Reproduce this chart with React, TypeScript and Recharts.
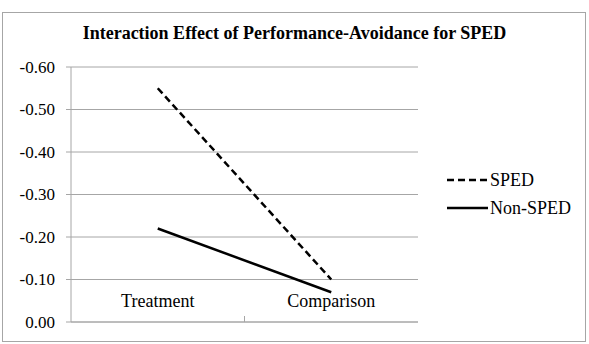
import React from 'react';
import { LineChart, Line, XAxis, YAxis, CartesianGrid } from 'recharts';

const categories = ['Treatment', 'Comparison'];
const spedValues = [-0.55, -0.1];
const nonSpedValues = [-0.22, -0.07];
const yTicks = [-0.6, -0.5, -0.4, -0.3, -0.2, -0.1, 0];

const data = categories.map((c, i) => ({ name: c, sped: spedValues[i], nonSped: nonSpedValues[i] }));

const W = 589;
const H = 344;
const MARGIN = { top: 67, right: 171, bottom: 17, left: 16 };
const Y_W = 55;
const PLOT_W = W - MARGIN.left - MARGIN.right - Y_W;
const HALF_BAND = PLOT_W / categories.length / 2;
const FONT = '"Liberation Serif", "Times New Roman", serif';
const GRID = '#a6a6a6';

const CatTick = (props: any) => {
  const { x, y, payload, index } = props;
  return (
    <g>
      <text x={x} y={y - 23} textAnchor="middle" fontFamily={FONT} fontSize={18} fill="#000">
        {payload.value}
      </text>
      {index < categories.length - 1 && (
        <line x1={x + HALF_BAND} x2={x + HALF_BAND} y1={y - 14} y2={y - 8} stroke={GRID} />
      )}
    </g>
  );
};

const ValTick = (props: any) => {
  const { x, y, payload } = props;
  const v = payload.value as number;
  return (
    <text x={x - 9} y={y} dy="0.35em" textAnchor="end" fontFamily={FONT} fontSize={17} fill="#000">
      {v === 0 ? '0.00' : v.toFixed(2)}
    </text>
  );
};

const LegendBox = () => (
  <div style={{ fontFamily: FONT, fontSize: 18, color: '#000', lineHeight: '28px' }}>
    <div style={{ display: 'flex', alignItems: 'center', height: 28 }}>
      <svg width={43} height={6}>
        <line x1={0} x2={41} y1={3} y2={3} stroke="#000" strokeWidth={2.5} strokeDasharray="7 4" />
      </svg>
      <span>SPED</span>
    </div>
    <div style={{ display: 'flex', alignItems: 'center', height: 28 }}>
      <svg width={43} height={6}>
        <line x1={0} x2={41} y1={3} y2={3} stroke="#000" strokeWidth={2.5} />
      </svg>
      <span>Non-SPED</span>
    </div>
  </div>
);

export default function App() {
  return (
    <div style={{ position: 'absolute', left: 0, top: 0, width: W, height: H, background: '#fff' }}>
      <div
        style={{
          position: 'absolute', left: 2, top: 12, width: 582, height: 328,
          border: '1px solid #a6a6a6', boxSizing: 'content-box',
        }}
      />
      <div
        style={{
          position: 'absolute', left: 0, top: 23, width: W, textAlign: 'center',
          fontFamily: FONT, fontWeight: 'bold', fontSize: 18, lineHeight: '20px',
        }}
      >
        Interaction Effect of Performance-Avoidance for SPED
      </div>
      <div style={{ position: 'absolute', left: 0, top: 0 }}>
        <LineChart width={W} height={H} data={data} margin={MARGIN}>
          <CartesianGrid vertical={false} stroke={GRID} />
          <XAxis
            dataKey="name"
            scale="band"
            stroke={GRID}
            tickLine={false}
            tick={<CatTick />}
            height={5}
            interval={0}
          />
          <YAxis
            domain={[-0.6, 0]}
            reversed
            ticks={yTicks}
            interval={0}
            width={Y_W}
            stroke={GRID}
            tickSize={5}
            tick={<ValTick />}
          />
          <Line
            dataKey="sped"
            stroke="#000"
            strokeWidth={2.5}
            strokeDasharray="7 4"
            dot={false}
            isAnimationActive={false}
          />
          <Line
            dataKey="nonSped"
            stroke="#000"
            strokeWidth={2.5}
            dot={false}
            isAnimationActive={false}
          />
        </LineChart>
      </div>
      <div style={{ position: 'absolute', left: 447, top: 166 }}>
        <LegendBox />
      </div>
    </div>
  );
}
